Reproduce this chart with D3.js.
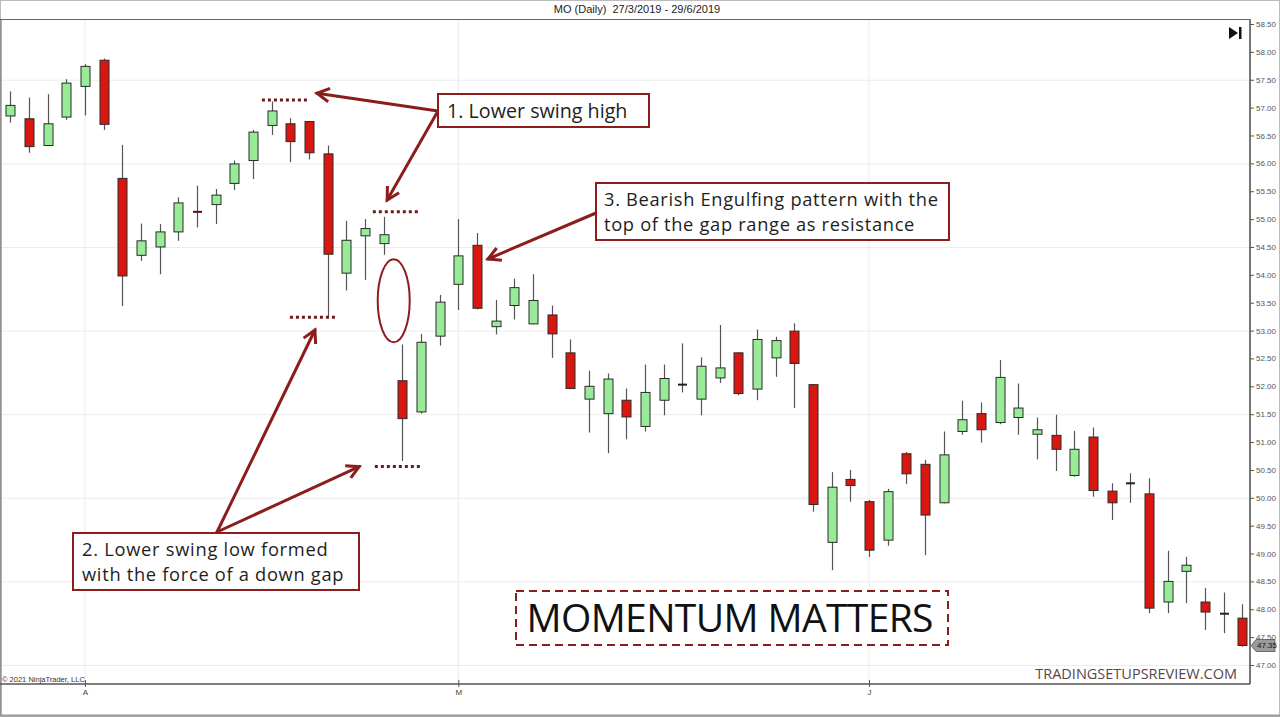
<!DOCTYPE html>
<html><head><meta charset="utf-8">
<script src="https://cdn.jsdelivr.net/npm/d3@7"></script>
<style>
html,body{margin:0;padding:0;background:#fff;}
svg{display:block;}
</style></head>
<body>
<svg id="chart" width="1280" height="717"></svg>
<script>
// ---- DATA ----
const opens  = [56.85,56.80,56.32,56.83,57.38,57.85,55.73,54.35,54.50,54.77,55.14,55.26,55.64,56.05,56.68,56.71,56.75,56.17,54.03,54.70,54.56,52.10,51.54,52.90,53.83,54.53,53.07,53.45,53.12,53.28,52.60,51.77,51.51,51.75,51.28,51.75,52.03,51.77,52.15,52.60,51.95,52.51,52.99,52.03,49.20,50.33,49.93,49.24,50.79,50.60,49.91,51.19,51.51,51.35,51.44,51.14,51.12,50.40,51.09,50.12,50.26,50.07,48.13,48.68,48.13,47.92,47.84];
const highs  = [57.29,57.18,57.24,57.51,57.78,57.88,56.33,54.92,54.91,55.39,55.60,55.54,56.05,56.60,57.11,56.81,56.76,56.32,54.97,55.00,55.04,52.75,52.94,53.64,55.00,54.75,53.55,53.93,54.01,53.45,52.84,52.28,52.23,51.96,52.39,52.39,52.77,52.52,53.10,52.61,53.02,52.89,53.13,52.04,50.46,50.50,49.96,50.16,50.82,50.68,51.19,51.74,51.71,52.47,52.05,51.44,51.49,51.20,51.26,50.26,50.44,50.35,49.05,48.94,48.38,48.30,48.09];
const lows   = [56.73,56.19,56.31,56.78,56.86,56.60,53.44,54.25,54.01,54.61,54.85,54.91,55.52,55.72,56.51,56.02,56.07,53.24,53.72,53.91,54.36,50.66,51.51,52.73,53.37,53.38,52.93,53.20,53.11,52.51,51.95,51.17,50.80,51.05,51.19,51.48,51.89,51.48,52.06,51.84,51.75,52.17,51.61,49.75,48.70,49.93,48.94,49.14,50.25,48.97,49.90,51.13,50.99,51.32,51.13,50.69,50.48,50.38,50.02,49.60,49.91,47.93,47.93,48.11,47.63,47.57,47.33];
const closes = [57.04,56.30,56.71,57.44,57.74,56.70,53.98,54.61,54.77,55.29,55.12,55.43,55.99,56.56,56.94,56.39,56.19,54.37,54.62,54.83,54.72,51.42,52.79,53.51,54.34,53.40,53.17,53.77,53.54,52.94,51.96,52.00,52.13,51.45,51.89,52.14,52.03,52.36,52.33,51.87,52.84,52.82,52.41,49.88,50.19,50.22,49.06,50.11,50.43,49.69,50.77,51.40,51.22,52.16,51.61,51.22,50.87,50.87,50.13,49.91,50.26,48.02,48.50,48.79,47.95,47.92,47.35];
const monthTickIdx    = [4, 24, 46];
const monthTickLabels = ["A", "M", "J"];
const priceTicks = d3.range(47, 58.501, 0.5);
const gridPrices = [47, 48.5, 50, 51.5, 53, 54.5, 56, 57.5];
const titleText = "MO (Daily)  27/3/2019 - 29/6/2019";
const lastPrice = 47.35;

// annotation anchors in data space (bar index, price)
const levels = [
  {from: 13.48, to: 15.95, price: 57.136},
  {from: 19.42, to: 21.94, price: 55.13},
  {from: 14.98, to: 17.44, price: 53.24},
  {from: 19.53, to: 22.00, price: 50.56}
];
const ellipseAnchor = {idx: 20.54, price: 53.536};
const arrowTips = [
  {from: [438, 111], idx: 16.43, price: 57.257},
  {from: [438, 111], idx: 20.19, price: 55.342},
  {from: [217, 532], idx: 16.32, price: 53.010},
  {from: [217, 532], idx: 18.69, price: 50.558},
  {from: [596, 213], idx: 25.59, price: 54.284}
];
const boxes = [
  {x: 438, y: 94, w: 211, h: 33, lines: ["1. Lower swing high"], tx: 447, ty: 118},
  {x: 596, y: 183, w: 353, h: 57, lines: ["3. Bearish Engulfing pattern with the", "top of the gap range as resistance"], tx: 604, ty: 206},
  {x: 73, y: 533, w: 286, h: 57, lines: ["2. Lower swing low formed", "with the force of a down gap"], tx: 82, ty: 556}
];

// ---- CHART ----
const svg = d3.select("#chart");
const ANN = "#8c1d1d";
const x = d3.scaleLinear().domain([0, 66]).range([10.3, 1242.3]);
const y = d3.scaleLinear().domain([47, 58.5]).range([665, 24]);
const plotL = 1, plotR = 1250, plotT = 19, plotB = 684;

// outer frame
svg.append("rect").attr("x",0.5).attr("y",0.5).attr("width",1279).attr("height",716)
  .attr("fill","none").attr("stroke","#bbb");

// title
svg.append("text").attr("x", 637).attr("y", 13).attr("text-anchor","middle")
  .style("white-space","pre")
  .attr("font-family","Liberation Sans, Arial, sans-serif").attr("font-size", 11).attr("fill","#222")
  .text(titleText);

// gridlines
const grid = svg.append("g");
grid.selectAll("line.h").data(gridPrices).join("line")
  .attr("x1", plotL).attr("x2", plotR).attr("y1", d => y(d)+0.5).attr("y2", d => y(d)+0.5)
  .attr("stroke", "#ececec").attr("stroke-width", 1);
grid.selectAll("line.v").data(monthTickIdx).join("line")
  .attr("x1", d => x(d)).attr("x2", d => x(d)).attr("y1", plotT).attr("y2", plotB)
  .attr("stroke", "#ececec").attr("stroke-width", 1);

// frame lines
svg.append("line").attr("x1",0).attr("x2",plotR).attr("y1",plotT+0.5).attr("y2",plotT+0.5).attr("stroke","#666");
svg.append("line").attr("x1",1).attr("x2",1).attr("y1",plotT).attr("y2",716).attr("stroke","#666");
svg.append("line").attr("x1",0).attr("x2",1280).attr("y1",715.5).attr("y2",715.5).attr("stroke","#999").attr("stroke-width",2);

// y axis
const yAxis = svg.append("g").attr("transform", `translate(${plotR},0)`)
  .call(d3.axisRight(y).tickValues(priceTicks).tickFormat(d3.format(".2f")).tickSize(4).tickPadding(2));
yAxis.select(".domain").attr("stroke","#777").attr("stroke-width",2).attr("d", `M0,${plotT}V${plotB}`);
yAxis.selectAll(".tick line").attr("stroke","#555");
yAxis.selectAll(".tick text").attr("font-family","Liberation Sans, Arial, sans-serif").attr("font-size",8).attr("fill","#555");

// x axis
const xAxis = svg.append("g").attr("transform", `translate(0,${plotB})`)
  .call(d3.axisBottom(x).tickValues(monthTickIdx).tickFormat((d,i) => monthTickLabels[i]).tickSize(4).tickPadding(1));
xAxis.select(".domain").attr("stroke","#555").attr("stroke-width",1.5).attr("d", `M0,0H${plotR}`);
xAxis.selectAll(".tick line").attr("stroke","#555").attr("y1",-4).attr("y2",3);
xAxis.selectAll(".tick text").attr("font-family","Liberation Sans, Arial, sans-serif").attr("font-size",8).attr("fill","#444");

// candles
const bars = d3.range(opens.length).map(i => ({i, o: opens[i], h: highs[i], l: lows[i], c: closes[i]}));
const bw = 9;
const cg = svg.append("g");
cg.selectAll("line.wick").data(bars).join("line")
  .attr("x1", d => Math.round(x(d.i))+0.5).attr("x2", d => Math.round(x(d.i))+0.5)
  .attr("y1", d => y(d.h)).attr("y2", d => y(d.l))
  .attr("stroke", "#555").attr("stroke-width", 1.2);
cg.selectAll("rect.body").data(bars.filter(d => Math.abs(d.o - d.c) >= 0.03)).join("rect")
  .attr("x", d => Math.round(x(d.i)) - bw/2 + 0.5).attr("width", bw)
  .attr("y", d => y(Math.max(d.o, d.c))).attr("height", d => Math.max(1, y(Math.min(d.o, d.c)) - y(Math.max(d.o, d.c))))
  .attr("fill", d => d.c > d.o ? "#98ec98" : "#d9160f")
  .attr("stroke", "#2a2a2a").attr("stroke-width", 1);
cg.selectAll("line.doji").data(bars.filter(d => Math.abs(d.o - d.c) < 0.03)).join("line")
  .attr("x1", d => Math.round(x(d.i)) - bw/2 + 0.5).attr("x2", d => Math.round(x(d.i)) + bw/2 + 0.5)
  .attr("y1", d => y((d.o+d.c)/2)).attr("y2", d => y((d.o+d.c)/2))
  .attr("stroke", d => d.c < d.o ? "#5a1010" : "#222").attr("stroke-width", 2);

// last price tag
const lp = y(lastPrice);
svg.append("path").attr("d", `M${plotR+1},${lp} L${plotR+6},${lp-6} H${plotR+25} V${lp+6} H${plotR+6} Z`)
  .attr("fill","#9a9a9a").attr("stroke","#555").attr("stroke-width",0.8);
svg.append("text").attr("x", plotR+7).attr("y", lp+3).attr("font-family","Liberation Sans, Arial, sans-serif")
  .attr("font-size",8).attr("fill","#111").text(d3.format(".2f")(lastPrice));

// play-to-end icon
svg.append("path").attr("d","M1229,27 L1238,33 L1229,39 Z").attr("fill","#111");
svg.append("rect").attr("x",1239).attr("y",27).attr("width",2.5).attr("height",12).attr("fill","#111");

// ---- ANNOTATIONS ----
const ag = svg.append("g");
ag.selectAll("line.lvl").data(levels).join("line")
  .attr("x1", d => x(d.from)).attr("x2", d => x(d.to)).attr("y1", d => y(d.price)).attr("y2", d => y(d.price))
  .attr("stroke", "#6e1a1a").attr("stroke-width", 3).attr("stroke-dasharray", "3,3");

ag.append("ellipse").attr("cx", x(ellipseAnchor.idx)).attr("cy", y(ellipseAnchor.price))
  .attr("rx", 16).attr("ry", 41.5).attr("fill","none").attr("stroke", ANN).attr("stroke-width", 2);

arrowTips.forEach(a => {
  const tx = x(a.idx), ty = y(a.price);
  const [fx, fy] = a.from;
  ag.append("line").attr("x1", fx).attr("y1", fy).attr("x2", tx).attr("y2", ty)
    .attr("stroke", ANN).attr("stroke-width", 3).attr("stroke-linecap","round");
  const ang = Math.atan2(ty - fy, tx - fx);
  const L = 14, spread = 0.5;
  const p1 = [tx - L*Math.cos(ang - spread), ty - L*Math.sin(ang - spread)];
  const p2 = [tx - L*Math.cos(ang + spread), ty - L*Math.sin(ang + spread)];
  ag.append("path").attr("d", `M${p1[0]},${p1[1]} L${tx},${ty} L${p2[0]},${p2[1]}`)
    .attr("fill","none").attr("stroke", ANN).attr("stroke-width", 3).attr("stroke-linejoin","miter").attr("stroke-linecap","butt");
});

const refSize = 19.7, useSize = 18.3, lineGap = 25;
boxes.forEach(b => {
  ag.append("rect").attr("x", b.x).attr("y", b.y).attr("width", b.w).attr("height", b.h)
    .attr("fill", "#fff").attr("stroke", ANN).attr("stroke-width", 2);
  b.lines.forEach((line, k) => {
    const t = ag.append("text").attr("x", b.tx).attr("y", b.ty + k*lineGap)
      .attr("font-family", "'Open Sans', sans-serif").attr("font-size", refSize).attr("fill", "#1e1e1e").text(line);
    if (b.lines.length > 1) {
      const w = t.node().getComputedTextLength();
      t.attr("font-size", useSize).attr("textLength", w).attr("lengthAdjust", "spacing");
    }
  });
});

// momentum box
ag.append("rect").attr("x", 516).attr("y", 591).attr("width", 432).attr("height", 54)
  .attr("fill","#fff").attr("stroke", ANN).attr("stroke-width", 2).attr("stroke-dasharray","8,5");
ag.append("text").attr("x", 730).attr("y", 632).attr("text-anchor","middle")
  .attr("font-family","'Open Sans', sans-serif").attr("font-size", 39).attr("fill","#111").attr("textLength", 407)
  .text("MOMENTUM MATTERS");

// watermark / credits
svg.append("text").attr("x", 1237).attr("y", 679).attr("text-anchor","end")
  .attr("font-family","'Open Sans', sans-serif").attr("font-size", 14.5).attr("fill","#5a4646")
  .text("TRADINGSETUPSREVIEW.COM");
svg.append("text").attr("x", 2).attr("y", 682)
  .attr("font-family","Liberation Sans, Arial, sans-serif").attr("font-size", 7.5).attr("fill","#333")
  .text("© 2021 NinjaTrader, LLC");
</script>
</body></html>
